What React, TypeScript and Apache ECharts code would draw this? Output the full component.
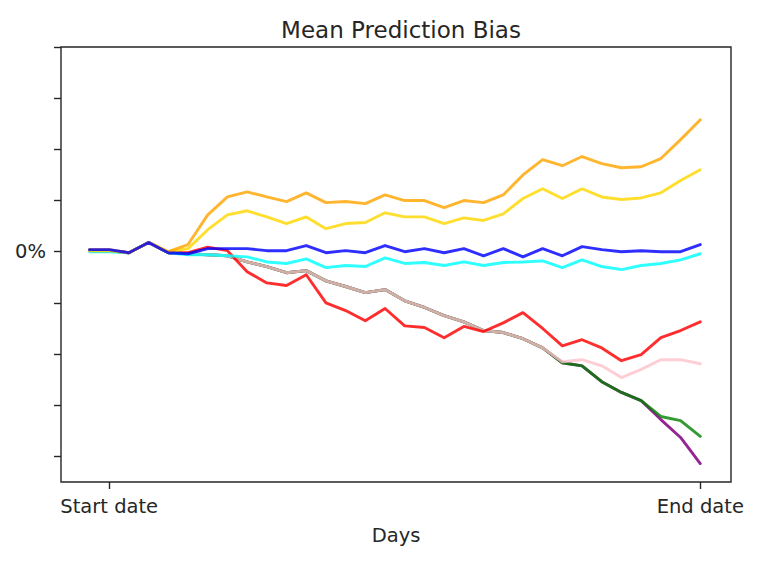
import React, { useEffect, useRef } from "react";
import * as echarts from "echarts";

const days: number[] = Array.from({ length: 32 }, (_, i) => i);

const orangeValues = [0.04, 0.04, -0.02, 0.18, 0.0, 0.14, 0.72, 1.07, 1.17, 1.07, 0.98, 1.15, 0.96, 0.98, 0.94, 1.11, 1.0, 1.0, 0.86, 1.0, 0.96, 1.11, 1.5, 1.8, 1.68, 1.86, 1.72, 1.64, 1.66, 1.82, 2.19, 2.58];
const goldValues = [0.02, 0.02, -0.02, 0.18, 0.0, 0.06, 0.43, 0.72, 0.8, 0.68, 0.55, 0.68, 0.45, 0.55, 0.57, 0.76, 0.68, 0.68, 0.55, 0.66, 0.61, 0.74, 1.04, 1.23, 1.04, 1.23, 1.07, 1.02, 1.05, 1.15, 1.39, 1.6];
const blueValues = [0.04, 0.04, -0.02, 0.18, -0.02, -0.04, 0.06, 0.06, 0.06, 0.02, 0.02, 0.12, -0.02, 0.02, -0.02, 0.12, 0.0, 0.06, -0.02, 0.06, -0.08, 0.06, -0.1, 0.06, -0.08, 0.1, 0.04, 0.0, 0.02, 0.0, 0.0, 0.14];
const cyanValues = [0.0, 0.0, -0.02, 0.18, -0.02, -0.06, -0.06, -0.08, -0.1, -0.2, -0.23, -0.14, -0.31, -0.27, -0.29, -0.12, -0.23, -0.21, -0.27, -0.2, -0.27, -0.21, -0.2, -0.18, -0.31, -0.16, -0.29, -0.35, -0.27, -0.23, -0.16, -0.04];
const redValues = [0.02, 0.02, -0.02, 0.18, -0.02, -0.02, 0.09, 0.02, -0.39, -0.61, -0.66, -0.45, -1.0, -1.15, -1.35, -1.11, -1.45, -1.48, -1.68, -1.46, -1.56, -1.39, -1.19, -1.5, -1.84, -1.72, -1.88, -2.13, -2.01, -1.68, -1.54, -1.37];
const pinkValues = [0.02, 0.02, -0.02, 0.18, -0.02, -0.04, -0.06, -0.08, -0.2, -0.29, -0.41, -0.37, -0.57, -0.68, -0.8, -0.74, -0.96, -1.09, -1.25, -1.37, -1.54, -1.58, -1.7, -1.88, -2.15, -2.11, -2.23, -2.46, -2.3, -2.11, -2.11, -2.19];
const greenValues = [0.02, 0.02, -0.02, 0.18, -0.02, -0.04, -0.06, -0.08, -0.2, -0.29, -0.41, -0.37, -0.57, -0.68, -0.8, -0.74, -0.96, -1.09, -1.25, -1.37, -1.54, -1.58, -1.7, -1.88, -2.17, -2.23, -2.54, -2.75, -2.91, -3.22, -3.3, -3.61];
const purpleValues = [0.02, 0.02, -0.02, 0.18, -0.02, -0.04, -0.06, -0.08, -0.2, -0.29, -0.41, -0.37, -0.57, -0.68, -0.8, -0.74, -0.96, -1.09, -1.25, -1.37, -1.54, -1.58, -1.7, -1.88, -2.17, -2.23, -2.54, -2.75, -2.91, -3.28, -3.63, -4.14];

const xTickValues = [1, 31];
const xTickLabels = ["Start date", "End date"];
const yTickValues = [-4, -3, -2, -1, 0, 1, 2, 3, 4];
const yLabelValues = [0];
const yLabelTexts = ["0%"];

const seriesDefs: { name: string; color: string; values: number[]; opacity: number }[] = [
  { name: "purple", color: "#800080", values: purpleValues, opacity: 0.85 },
  { name: "green", color: "#008000", values: greenValues, opacity: 0.8 },
  { name: "pink", color: "#FFC0CB", values: pinkValues, opacity: 0.8 },
  { name: "red", color: "#FF0000", values: redValues, opacity: 0.82 },
  { name: "cyan", color: "#00FFFF", values: cyanValues, opacity: 0.82 },
  { name: "gold", color: "#FFD700", values: goldValues, opacity: 0.82 },
  { name: "orange", color: "#FFA500", values: orangeValues, opacity: 0.82 },
  { name: "blue", color: "#0000FF", values: blueValues, opacity: 0.82 },
];

const FONT = "DejaVu Sans";
const TEXT = "#262626";

export default function App() {
  const ref = useRef<HTMLDivElement>(null);
  useEffect(() => {
    if (!ref.current) return;
    const chart = echarts.init(ref.current, undefined, { renderer: "svg" });
    chart.setOption({
      animation: false,
      backgroundColor: "#ffffff",
      title: {
        text: "Mean Prediction Bias",
        left: 396,
        top: 13,
        textAlign: "center",
        textStyle: { fontFamily: FONT, fontSize: 23, fontWeight: "normal", color: TEXT },
      },
      grid: {
        left: 61,
        right: 29,
        top: 47,
        bottom: 94,
        show: true,
        borderColor: "#262626",
        borderWidth: 1.4,
        backgroundColor: "transparent",
        containLabel: false,
      },
      xAxis: {
        type: "value",
        min: -1.447,
        max: 32.56,
        name: "Days",
        nameLocation: "middle",
        nameGap: 43,
        nameTextStyle: { fontFamily: FONT, fontSize: 19.5, color: TEXT },
        axisLine: { show: false, onZero: false },
        splitLine: { show: false },
        axisTick: { show: true, customValues: xTickValues, length: 7, lineStyle: { color: "#262626", width: 1.4 } },
        axisLabel: {
          show: true,
          customValues: xTickValues,
          margin: 14,
          fontFamily: FONT,
          fontSize: 19.5,
          color: TEXT,
          formatter: (v: number) => {
            const idx = xTickValues.indexOf(Math.round(v));
            return idx >= 0 ? xTickLabels[idx] : "";
          },
        },
      },
      yAxis: {
        type: "value",
        min: -4.5,
        max: 4.0,
        axisLine: { show: false, onZero: false },
        splitLine: { show: false },
        axisTick: { show: true, customValues: yTickValues, length: 7, lineStyle: { color: "#262626", width: 1.4 } },
        axisLabel: {
          show: true,
          customValues: yLabelValues,
          margin: 15,
          fontFamily: FONT,
          fontSize: 19.5,
          color: TEXT,
          formatter: (v: number) => {
            const idx = yLabelValues.indexOf(Math.round(v));
            return idx >= 0 ? yLabelTexts[idx] : "";
          },
        },
      },
      series: seriesDefs.map((s) => ({
        name: s.name,
        type: "line",
        data: days.map((d, i) => [d, s.values[i]]),
        showSymbol: false,
        symbol: "none",
        lineStyle: { color: s.color, width: 2.9, opacity: s.opacity, join: "round", cap: "round" },
        itemStyle: { color: s.color },
        emphasis: { disabled: true },
      })),
    });
    return () => chart.dispose();
  }, []);
  return <div ref={ref} style={{ position: "fixed", left: 0, top: 0, width: 760, height: 576 }} />;
}
